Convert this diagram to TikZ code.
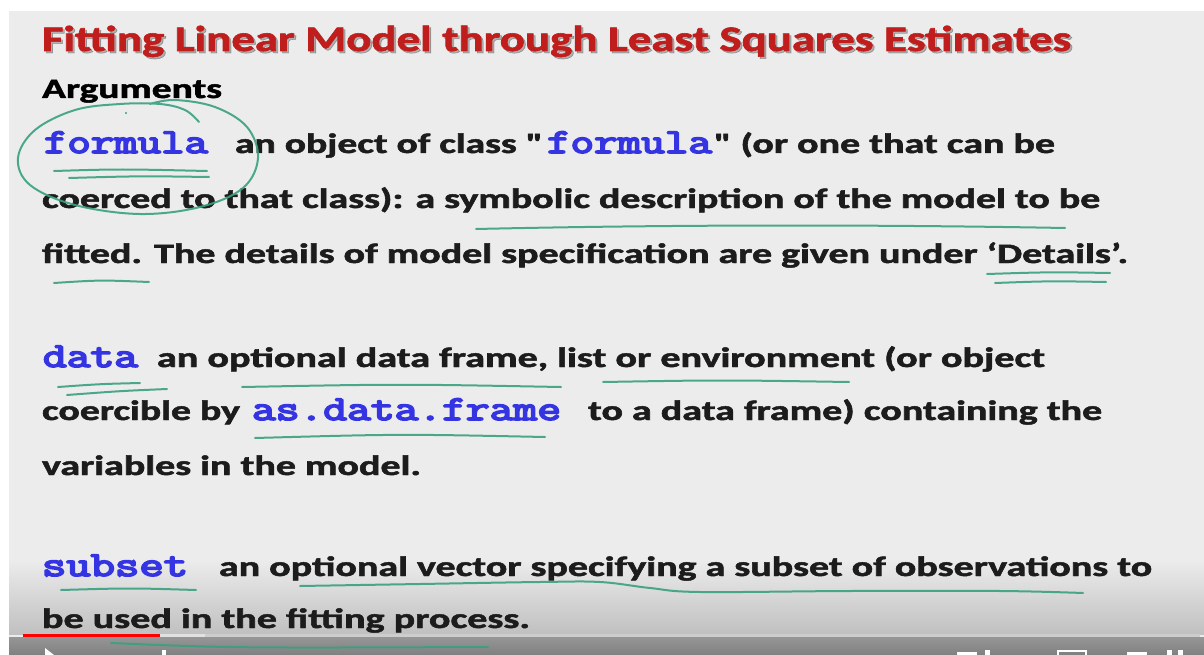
\documentclass[tikz,border=0pt]{standalone}
\usepackage{fontspec}
\setmainfont{Carlito}[Ligatures=TeXOff, BoldFeatures={FakeBold=1.6}]
\newfontfamily\monof{Latin Modern Mono}[FakeBold=4.5]
\usepackage{graphicx}
\definecolor{slidebg}{RGB}{236,236,236}
\definecolor{titlered}{RGB}{192,30,28}
\definecolor{txt}{RGB}{28,28,28}
\definecolor{codeblue}{RGB}{52,52,226}
\definecolor{inkgreen}{RGB}{58,160,128}
\definecolor{barred}{RGB}{255,0,0}
\definecolor{grayA}{RGB}{192,192,192}
\definecolor{grayB}{RGB}{150,150,150}
\definecolor{grayC}{RGB}{128,128,128}
\definecolor{barbg}{RGB}{205,205,205}
\definecolor{barbuf}{RGB}{225,225,225}
\tikzset{
  seg/.style={anchor=base west, inner sep=0pt, outer sep=0pt},
  body/.style={font=\fontsize{28}{30}\selectfont\bfseries, text=txt},
  code/.style={font=\fontsize{35}{35}\selectfont\monof, text=codeblue},
  ink/.style={draw=inkgreen, line width=2pt, line cap=round, line join=round, opacity=0.9},
  icon/.style={fill=white}
}
\newcommand\fitseg[5]{\node[seg,#1] (#2) at (#3) {\resizebox{#4pt}{\height}{#5}};}
\begin{document}
\begin{tikzpicture}[x=1pt,y=-1pt]
\useasboundingbox (0,0) rectangle (1204,655);
% backgrounds
\fill[white] (0,0) rectangle (1204,655);
\fill[slidebg] (9,11) rectangle (1204,655);
\shade[top color=slidebg, bottom color=grayA] (9,560) rectangle (1204,634);
\shade[top color=grayB, bottom color=grayC] (9,637) rectangle (1204,655);
% title
\node[seg, font=\fontsize{36}{38}\selectfont\bfseries, text=black, opacity=0.25] (titleshadow) at (44,53) {\resizebox{1029pt}{\height}{Fitting Linear Model through Least Squares Estimates}};
\node[seg, font=\fontsize{36}{38}\selectfont\bfseries, text=titlered] (title) at (42,51) {\resizebox{1029pt}{\height}{Fitting Linear Model through Least Squares Estimates}};
\fitseg{body, text=black}{args}{42,98}{180}{Arguments}
% paragraph 1
\fitseg{code}{f1}{44,153}{164}{formula}
\fitseg{body}{l1a}{235,153}{308}{an object of class "}
\fitseg{code}{f2}{547,153}{165}{formula}
\fitseg{body}{l1b}{714,153}{341}{" (or one that can be}
\fitseg{body}{l2}{42,208}{1058}{coerced to that class): a symbolic description of the model to be}
\fitseg{body}{l3}{42,263}{1086}{fitted. The details of model specification are given under ‘Details’.}
% paragraph 2
\fitseg{code}{d1}{43,367}{95}{data}
\fitseg{body}{l4}{157,367}{888}{an optional data frame, list or environment (or object}
\fitseg{body}{l5a}{42,420}{198}{coercible by}
\fitseg{code}{d2}{252,420}{309}{as.data.frame}
\fitseg{body}{l5b}{588,420}{514}{to a data frame) containing the}
\fitseg{body}{l6}{42,475}{379}{variables in the model.}
% paragraph 3
\fitseg{code}{s1}{42,576}{146}{subset}
\fitseg{body}{l7}{219,576}{933}{an optional vector specifying a subset of observations to}
\fitseg{body}{l8}{42,628}{488}{be used in the fitting process.}
% progress bar
\fill[barbg] (23,634) rectangle (1200,637);
\fill[barbuf] (160,634) rectangle (205,637);
\fill[barred] (23,634) rectangle (160,637);
% player icons (tops only)
\fill[icon] (45,648) -- (54,655) -- (45,655) -- cycle;
\fill[icon] (162,650) rectangle (166,655);
\fill[icon] (957,652) rectangle (977,655);
\fill[icon] (985,650) rectangle (990,655);
\draw[white, line width=1.5pt] (1058,655) -- (1058,651) -- (1086,651) -- (1086,655);
\fill[icon] (1127,652) rectangle (1147,655);
\fill[icon] (1167,650) rectangle (1172,655);
\fill[icon] (1178,650) rectangle (1183,655);
% handwritten annotations
\draw[ink] plot[smooth, tension=0.6] coordinates {(150,104) (175,100) (215,107) (247,127) (258,158) (243,188) (200,207) (140,214) (75,205) (30,185) (18,158) (35,130) (75,110) (120,104) (160,104) (185,110) (199,122)};
\fill[inkgreen] (126,113) circle (1.2);
\draw[ink] (54,171) .. controls (120,169) .. (207,171);
\draw[ink] (69,178) .. controls (140,176) .. (209,177);
\draw[ink] (476,229) .. controls (700,224) and (900,225) .. (1065,228);
\draw[ink] (54,283) .. controls (100,280) .. (149,282);
\draw[ink] (987,274) .. controls (1050,272) .. (1110,273);
\draw[ink] (995,283) .. controls (1050,281) .. (1106,282);
\draw[ink] (58,387) .. controls (100,384) .. (140,383);
\draw[ink] (67,395) .. controls (120,391) .. (167,389);
\draw[ink] (242,387) .. controls (400,384) .. (561,387);
\draw[ink] (603,382) .. controls (720,380) .. (849,382);
\draw[ink] (255,438) .. controls (400,434) .. (545,437);
\draw[ink] (61,590) .. controls (130,588) .. (196,590);
\draw[ink] plot[smooth, tension=0.6] coordinates {(300,586) (420,584) (540,582) (600,582) (650,588) (700,592) (850,591) (1000,591) (1083,593)};
\draw[ink] (111,643) .. controls (230,648) .. (488,647);
\end{tikzpicture}
\end{document}
